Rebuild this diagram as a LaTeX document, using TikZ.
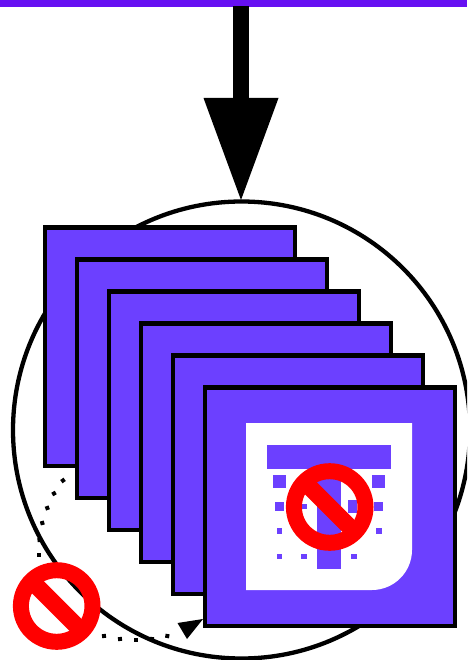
\documentclass[tikz,border=0pt]{standalone}
\usetikzlibrary{calc}
\definecolor{topbar}{HTML}{6610F2}
\definecolor{cardfill}{HTML}{6C40FF}
\tikzset{
  cardbox/.style={draw=black,line width=4.3pt,fill=cardfill,line join=miter},
  icon/.style={fill=cardfill,draw=none},
  ringline/.style={draw=black,line width=4.3pt},
  banring/.style={draw=red,line width=16pt},
  banbar/.style={draw=red,line width=17pt,line cap=butt},
}
\newcommand{\cardat}[2]{\draw[cardbox] (#1,#2) rectangle ++(250,238.5);}
\newcommand{\sq}[4]{\fill[icon] (#1,#2) rectangle (#3,#4);}
\newcommand{\bansign}[2]{%
  \draw[banbar] ($(#1,#2)+(-26,-26)$) -- ($(#1,#2)+(26,26)$);
  \draw[banring] (#1,#2) circle (35.8);}
\begin{document}
\begin{tikzpicture}[x=1pt,y=-1pt]
\useasboundingbox (0,0) rectangle (467,660);
\begin{scope}
\clip (0,0) rectangle (467,660);
\fill[topbar] (0,0) rectangle (467,7);
% big arrow
\coordinate (arrowstart) at (241,6);
\coordinate (arrowbase) at (241,98);
\coordinate (arrowtip) at (241,200);
\draw[line width=16pt,black] (arrowstart) -- (arrowbase);
\fill[black] (203.5,98) -- (278.5,98) -- (arrowtip) -- cycle;
% large circle
\draw[ringline] (241.5,430) circle (228.5);
% dotted return arc
\foreach \px/\py/\ang in {63/480.5/-55,54/493.5/-60,47.3/508/-70,42.3/523/-75,39.5/540/-88,39.3/555/-90,
  104/636/8,120/639/5,136/640/0,152/639/-5,167.3/636/-10}
  \fill[black,rotate around={\ang:(\px,\py)}] (\px-2,\py-2) rectangle (\px+2,\py+2);
\fill[black] (203,619) -- (177.5,623) -- (187,639) -- cycle;
% stacked cards
\cardat{44.7}{227.5}
\cardat{76.7}{259.5}
\cardat{108.7}{291.5}
\cardat{140.7}{323.5}
\cardat{172.7}{355.5}
\cardat{204.7}{387.5}
% white panel
\fill[white] (246,423) -- (412,423) -- (412,550)
  .. controls (412,572) and (394,590) .. (372,590) -- (246,590) -- cycle;
% icon
\sq{267}{445}{391}{469}
\sq{317}{469}{341}{569}
\sq{273}{475}{286}{488}
\sq{372}{475}{385}{488}
\sq{275}{502}{284}{511}
\sq{302}{504}{307}{509}
\sq{348}{500}{357}{513}
\sq{374}{502}{383}{511}
\sq{277}{528}{282}{534}
\sq{376}{528}{382}{534}
\sq{277}{554}{282}{559}
\sq{301}{554}{307}{559}
\sq{351}{554}{357}{559}
% prohibition signs
\bansign{329.7}{507}
\bansign{56.7}{606}
\end{scope}
\end{tikzpicture}
\end{document}
